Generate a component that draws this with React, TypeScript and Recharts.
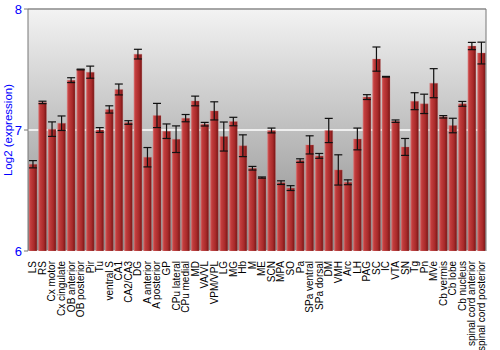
import {
  Bar,
  BarChart,
  CartesianGrid,
  ErrorBar,
  ReferenceLine,
  XAxis,
  YAxis,
} from "recharts";

const regions = [
  "LS", "RS", "Cx motor", "Cx cingulate", "OB anterior", "OB posterior", "Pir", "Tu",
  "ventral S", "CA1", "CA2/CA3", "DG", "A anterior", "A posterior", "GP", "CPu lateral",
  "CPu medial", "MD", "VA/VL", "VPM/VPL", "LG", "MG", "Hb", "M", "ME", "SCN", "MPA", "SO",
  "Pa", "SPa ventral", "SPa dorsal", "DM", "VMH", "Arc", "LH", "PAG", "SC", "IC", "VTA",
  "SN", "Tg", "Pn", "MVe", "Cb vermis", "Cb lobe", "Cb nucleus", "spinal cord anterior",
  "spinal cord posterior",
];

const expression = [
  6.717, 7.228, 7.007, 7.056, 7.412, 7.5, 7.478, 7.0,
  7.17, 7.335, 7.062, 7.627, 6.775, 7.12, 6.99, 6.924,
  7.098, 7.24, 7.048, 7.158, 6.946, 7.07, 6.87, 6.684, 6.607, 6.996, 6.565, 6.52,
  6.747, 6.877, 6.786, 6.996, 6.67, 6.568, 6.926, 7.272, 7.586, 7.44, 7.073,
  6.86, 7.238, 7.216, 7.387, 7.109, 7.037, 7.216, 7.694,
  7.636,
];

const errors = [
  0.03, 0.01, 0.06, 0.06, 0.02, 0.003, 0.05, 0.02,
  0.03, 0.045, 0.015, 0.04, 0.08, 0.1, 0.06, 0.11,
  0.03, 0.04, 0.015, 0.075, 0.12, 0.035, 0.09, 0.015, 0.005, 0.02, 0.015, 0.02,
  0.015, 0.075, 0.02, 0.1, 0.125, 0.02, 0.09, 0.02, 0.1, 0.003, 0.01,
  0.07, 0.07, 0.08, 0.12, 0.01, 0.06, 0.02, 0.03,
  0.09,
];

const yTicks = [6, 7, 8];

const data = regions.map((name, i) => ({
  name,
  value: expression[i],
  err: errors[i],
}));

const font = "'Liberation Sans', Arial, sans-serif";

function RegionTick(props: any) {
  const { x, y, payload } = props;
  return (
    <g transform={`translate(${x},${y})`}>
      <text
        transform="rotate(-90)"
        x={-2}
        dy="0.36em"
        textAnchor="end"
        fontSize={10}
        fontFamily={font}
        fill="#000"
      >
        {payload.value}
      </text>
    </g>
  );
}

export default function App() {
  return (
    <div style={{ position: "fixed", left: 0, top: 0, width: 500, height: 350, background: "#fff" }}>
      <BarChart
        width={500}
        height={350}
        data={data}
        margin={{ top: 9, right: 0, left: 0, bottom: 0 }}
        barCategoryGap="10%"
      >
        <defs>
          <linearGradient id="bgGrad" x1="0" y1="0" x2="0" y2="1">
            <stop offset="0%" stopColor="#f3f3f3" />
            <stop offset="100%" stopColor="#8a8a8a" />
          </linearGradient>
          <linearGradient id="barGrad" x1="0" y1="0" x2="1" y2="0">
            <stop offset="0%" stopColor="#d86a6a" />
            <stop offset="20%" stopColor="#c23d3d" />
            <stop offset="65%" stopColor="#a82a2a" />
            <stop offset="100%" stopColor="#761414" />
          </linearGradient>
        </defs>
        <CartesianGrid yAxisId="left" vertical={false} stroke="#ffffff" strokeWidth={1.5} fill="url(#bgGrad)" fillOpacity={1} />
        <XAxis
          dataKey="name"
          interval={0}
          height={99}
          tick={<RegionTick />}
          tickLine={false}
          axisLine={false}
        />
        <YAxis
          yAxisId="left"
          domain={[6, 8]}
          ticks={yTicks}
          width={28}
          tickSize={4}
          tickMargin={2}
          allowDataOverflow
          axisLine={{ stroke: "#777" }}
          tickLine={{ stroke: "#777" }}
          tick={{ fill: "#0000ff", fontSize: 13, fontFamily: font }}
          label={{
            content: (p: any) => {
              const vb = p.viewBox || { x: 0, y: 9, width: 28, height: 242 };
              const cy = vb.y + vb.height / 2;
              return (
                <text
                  x={12}
                  y={cy}
                  transform={`rotate(-90 12 ${cy})`}
                  textAnchor="middle"
                  fontSize={11.5}
                  fontFamily={font}
                  fill="#0000ff"
                >
                  Log2 (expression)
                </text>
              );
            },
          }}
        />
        <YAxis
          yAxisId="right"
          orientation="right"
          domain={[6, 8]}
          ticks={yTicks}
          width={14}
          tickSize={3}
          tickMargin={1}
          axisLine={{ stroke: "#777" }}
          tickLine={{ stroke: "#777" }}
          tick={{ fill: "#0000ff", fontSize: 13, fontFamily: font }}
        />
        <ReferenceLine yAxisId="left" y={8} stroke="#888" strokeWidth={1.5} />
        <Bar
          yAxisId="left"
          dataKey="value"
          fill="url(#barGrad)"
          stroke="#d08080"
          strokeOpacity={0.5}
          strokeWidth={0.6}
          isAnimationActive={false}
        >
          <ErrorBar dataKey="err" width={4} stroke="#111" strokeWidth={1.2} direction="y" />
        </Bar>
      </BarChart>
    </div>
  );
}
